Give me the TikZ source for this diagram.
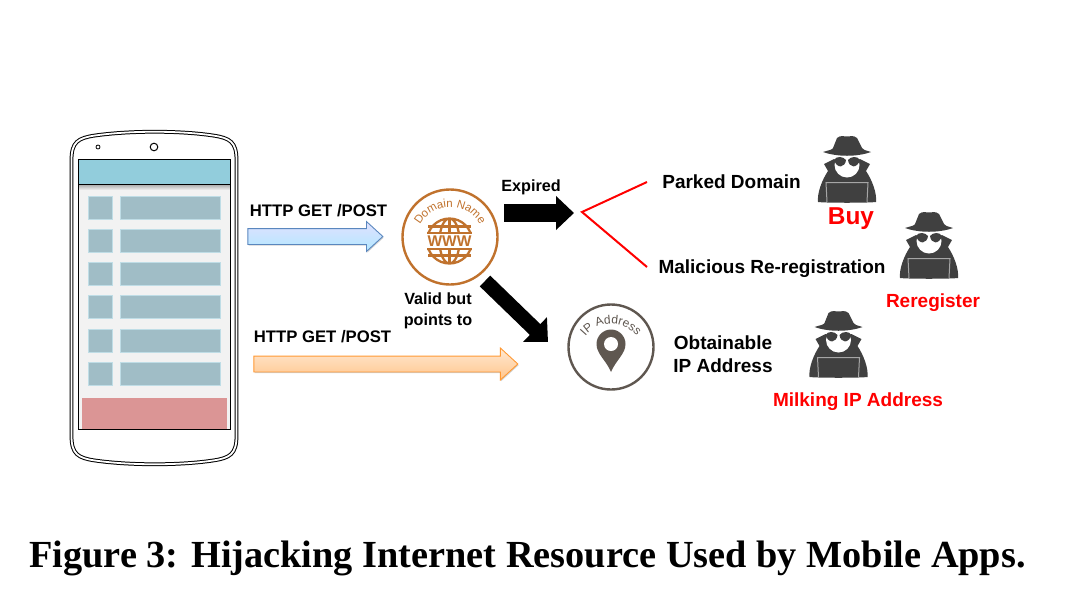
\documentclass[tikz,border=0pt]{standalone}
\usepackage{fontspec}
\setmainfont{Liberation Sans}
\newfontfamily\captionserif{Liberation Serif}
\usetikzlibrary{arrows.meta,shapes.arrows,shadows,decorations.text}
\definecolor{domainc}{HTML}{C0722D}
\definecolor{ipc}{HTML}{5F5750}
\definecolor{hackerc}{HTML}{404040}
\definecolor{rowc}{HTML}{A0BDC6}
\definecolor{rowedge}{HTML}{BFDDE6}
\begin{document}
\begin{tikzpicture}[x=1pt,y=-1pt,>=latex]
    \tikzset{
        lbl/.style={font=\bfseries\fontsize{19}{23.5}\selectfont, inner sep=0pt, align=center},
        httplbl/.style={font=\bfseries\fontsize{16.7}{21}\selectfont, inner sep=0pt},
        smalllbl/.style={font=\bfseries\fontsize{16.2}{21}\selectfont, inner sep=0pt, align=center},
        redlbl/.style={lbl, text=red},
        row/.style={draw=rowedge, line width=1pt, fill=rowc},
        block arrow/.style={single arrow, inner sep=7.5pt, line width=.9pt, single arrow tip angle=85, single arrow head extend=7pt,
            drop shadow={opacity=.35, shadow xshift=.8pt, shadow yshift=-1.2pt}},
        fat arrow/.style={line width=15pt, -{Triangle[length=18pt,width=33pt]}},
        red line/.style={draw=red, line width=2pt},
        hacker/.pic={
            \fill[hackerc] (-29,67) .. controls (-30,58) and (-25,45) .. (-19,36) -- (-23,29) -- (-13,24) -- (0,34) -- (13,24) -- (23,29) -- (19,36) .. controls (25,45) and (30,58) .. (29,67) .. controls (20,68) and (-20,68) .. (-29,67) -- cycle;
            \fill[white] (0,30) circle (12.5);
            \fill[hackerc] (-13,25) .. controls (-11,21) and (-4,21) .. (-1,25) .. controls (-2,33) and (-10,34) .. (-13,25) -- cycle;
            \fill[hackerc] (13,25) .. controls (11,21) and (4,21) .. (1,25) .. controls (2,33) and (10,34) .. (13,25) -- cycle;
            \fill[hackerc] (-24,17) .. controls (-18,15) and (-15,15) .. (-14,13) -- (-10,3) .. controls (-6,-.5) and (-3,2) .. (0,1.5) .. controls (3,2) and (6,-.5) .. (10,3) -- (15,13) .. controls (16,15) and (18,15) .. (24,17) .. controls (10,22) and (-10,22) .. (-24,17) -- cycle;
            \draw[gray!70, line width=1pt] (-20,67) -- (-21,47.5) -- (21,47.5) -- (20,67);
        }
    }

    \useasboundingbox (0,0) rectangle (1065,614);

    % phone
    \draw[line width=1pt, double=white, double distance=1.8pt] (71.5,160) .. controls (71.5,142) and (78,138) .. (95,135.5) .. controls (130,130.5) and (180,130.5) .. (213,135.5) .. controls (230,138) and (236.5,142) .. (236.5,160) -- (236.5,436) .. controls (236.5,454) and (230,458) .. (213,460.5) .. controls (180,465.5) and (130,465.5) .. (95,460.5) .. controls (78,458) and (71.5,454) .. (71.5,436) -- cycle;
    \draw[line width=.8pt] (98,147) circle (2);
    \draw[line width=1pt] (154,147) circle (3.8);
    \draw[fill=black!5, line width=.8pt] (78.5,159) rectangle (230,429);
    \fill[top color=gray!70, bottom color=black!5] (79,184) rectangle (229.5,190);
    \draw[fill={rgb,255:red,146;green,205;blue,220}, line width=.6pt] (78.5,159) rectangle (230,184);
    \foreach \rowy in {196,229,262,295,329,362} {
        \draw[row] (88.5,\rowy) rectangle (112,\rowy+23);
        \draw[row] (120,\rowy) rectangle (220,\rowy+23);
    }
    \fill[fill={rgb,255:red,219;green,149;blue,149}] (82,398) rectangle (227,428.6);

    % arrows from the phone
    \node[httplbl] (httptop) at (318.5,211) {HTTP GET /POST};
    \node[block arrow, draw={rgb,255:red,90;green,135;blue,190}, top color=blue!12, bottom color=blue!30!cyan!30, minimum width=29pt, minimum height=135pt] (bluearrow) at (311,236.5) {};
    \node[httplbl] (httpbottom) at (322.5,337) {HTTP GET /POST};
    \node[block arrow, draw=orange!80, top color=orange!18, bottom color=orange!45, minimum width=31pt, minimum height=264pt, single arrow head extend=8pt] (orangearrow) at (381.5,364) {};

    % domain icon
    \node[circle, draw=domainc, line width=2.4pt, minimum size=95pt, inner sep=0pt] (domain) at (450,237) {};
    \path[decorate, decoration={text along path, text align=center, text color=domainc, text={|\fontsize{11.5}{14}\selectfont|Domain Name}}] (450,241) ++(190:34) arc (190:350:34);
    \begin{scope}
        \clip (425,217) rectangle (475,233.8) (425,248.2) rectangle (475,266);
        \draw[domainc, line width=2.3pt] (449.5,241) circle (22.5) ellipse (10 and 22.5);
        \draw[domainc, line width=2.3pt] (449.5,218) -- (449.5,264) (428,226.5) -- (471,226.5) (428,255.5) -- (471,255.5) (427,232.8) -- (472,232.8) (427,249.2) -- (472,249.2);
    \end{scope}
    \node[font=\bfseries\fontsize{15.5}{16}\selectfont, text=domainc, inner sep=0pt] (www) at (449.5,241) {WWW};

    % ip icon
    \node[circle, draw=ipc, line width=2.4pt, minimum size=85pt, inner sep=0pt] (ip) at (611,347) {};
    \path[decorate, decoration={text along path, text align=center, text color=ipc, text={|\fontsize{12}{14}\selectfont|IP Address}}] (611,357) ++(200:33) arc (200:340:33);
    \fill[ipc] (611,372) .. controls (606,360) and (596.5,354) .. (596.5,344) arc (180:360:14.5) .. controls (625.5,354) and (616,360) .. (611,372) -- cycle;
    \fill[white] (611,344) circle (7);

    % black arrows
    \coordinate (expiredstart) at (504,213);
    \coordinate (expiredend) at (574,213);
    \coordinate (validstart) at (485,281);
    \coordinate (validend) at (548,342);
    \draw[fat arrow, line width=18pt] (expiredstart) -- (expiredend);
    \draw[fat arrow] (validstart) -- (validend);
    \node[smalllbl] (expired) at (531,187) {Expired};
    \node[smalllbl] (valid) at (438,310.5) {Valid but\\points to};

    % red fork
    \coordinate (fork) at (582,212);
    \coordinate (forktop) at (647,182);
    \coordinate (forkbottom) at (647,267);
    \draw[red line] (forktop) -- (fork) -- (forkbottom);

    \node[lbl] (parked) at (731.5,181.5) {Parked Domain};
    \node[lbl] (malicious) at (772,269) {Malicious Re-registration};
    \node[lbl] (obtainable) at (723,354) {Obtainable\\IP Address};

    \pic at (847,135) {hacker};
    \pic at (929,211) {hacker};
    \pic at (838.5,310) {hacker};

    \node[lbl, text=red, font=\bfseries\fontsize{24.4}{28}\selectfont] (buy) at (851,219) {Buy};
    \node[redlbl] (reregister) at (933,303) {Reregister};
    \node[redlbl] (milking) at (858,402) {Milking IP Address};

    \node[font=\captionserif\bfseries\fontsize{38.3}{44}\selectfont, inner sep=0pt] (caption) at (527.5,558) {Figure 3: Hijacking Internet Resource Used by Mobile Apps.};
\end{tikzpicture}
\end{document}
